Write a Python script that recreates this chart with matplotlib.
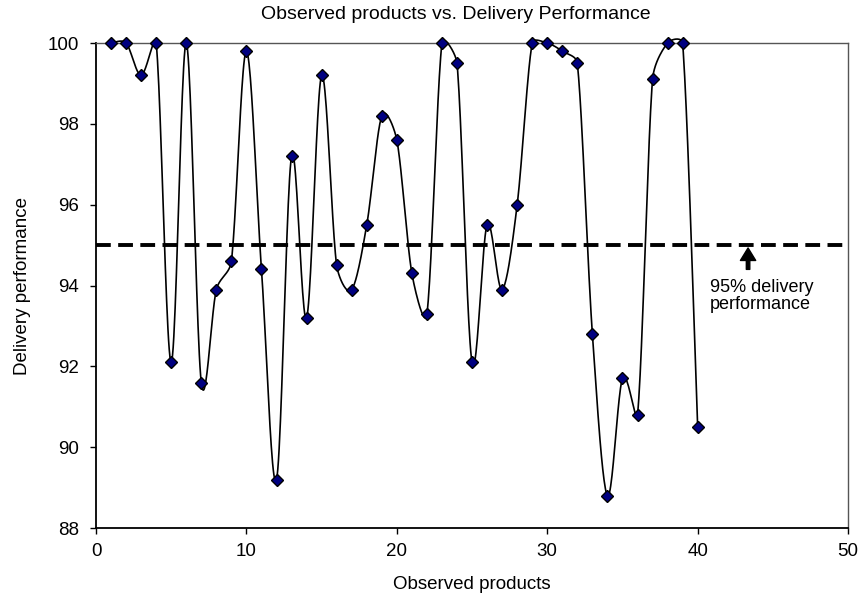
import numpy as np
import matplotlib.pyplot as plt

plt.rcParams['font.family'] = ['Liberation Sans', 'DejaVu Sans']

products = list(range(1, 41))
performance = [100, 100, 99.2, 100, 92.1, 100, 91.6, 93.9, 94.6, 99.8,
               94.4, 89.2, 97.2, 93.2, 99.2, 94.5, 93.9, 95.5, 98.2, 97.6,
               94.3, 93.3, 100, 99.5, 92.1, 95.5, 93.9, 96.0, 100, 100,
               99.8, 99.5, 92.8, 88.8, 91.7, 90.8, 99.1, 100, 100, 90.5]
target = 95


def smooth(x, y, aspect, n=24, k=0.4):
    # bezier spline through the points; handles follow the neighbour slope
    # and are shortened on short segments so the curve does not bulge
    pts = np.column_stack([np.asarray(x, float), np.asarray(y, float) * aspect])
    m = len(pts)
    tang = np.zeros_like(pts)
    for i in range(m):
        a = pts[max(i - 1, 0)]
        b = pts[min(i + 1, m - 1)]
        tang[i] = (b - a) / 6
    t = np.linspace(0, 1, n)[:, None]
    xs, ys = [], []
    for i in range(m - 1):
        p0, p3 = pts[i], pts[i + 1]
        seg = np.hypot(*(p3 - p0))
        h0 = tang[i]
        h1 = tang[i + 1]
        l0 = np.hypot(*h0)
        l1 = np.hypot(*h1)
        if l0 > k * seg:
            h0 = h0 * k * seg / l0
        if l1 > k * seg:
            h1 = h1 * k * seg / l1
        p1 = p0 + h0
        p2 = p3 - h1
        b = (1 - t) ** 3 * p0 + 3 * (1 - t) ** 2 * t * p1 \
            + 3 * (1 - t) * t ** 2 * p2 + t ** 3 * p3
        xs.extend(b[:, 0])
        ys.extend(b[:, 1] / aspect)
    return xs, ys


fig = plt.figure(figsize=(8.61, 5.98), dpi=100)
ax = fig.add_axes([0.1115, 0.117, 0.8735, 0.811])

# one y unit is about 2.69 times as tall on screen as one x unit is wide
sx, sy = smooth(products, performance, aspect=(485 / 12) / (752 / 50))
ax.plot(sx, sy, color='black', lw=1.2, zorder=2, clip_on=False)
ax.plot(products, performance, ls='none', marker='D', ms=5.8,
        mfc='#000080', mec='black', mew=1, zorder=3, clip_on=False)
ax.axhline(target, color='black', ls=(0, (3.8, 1.9)), lw=2.8, zorder=1)

ax.annotate('', xy=(43.35, target - 0.07), xytext=(43.35, 94.4),
            arrowprops=dict(facecolor='black', edgecolor='black',
                            width=2.5, headwidth=11, headlength=9))
ax.text(40.8, 94.17, '95% delivery\nperformance', fontsize=13,
        ha='left', va='top', linespacing=1.0)

ax.set_xlim(0, 50)
ax.set_ylim(88, 100)
ax.set_xticks(range(0, 51, 10))
ax.set_yticks(range(88, 101, 2))
ax.tick_params(axis='both', labelsize=13.5, direction='out', length=4.5, width=1)
ax.tick_params(axis='y', pad=8)
ax.tick_params(axis='x', pad=6)
for s in ['top', 'right']:
    ax.spines[s].set_color('#555555')
    ax.spines[s].set_linewidth(1)
for s in ['left', 'bottom']:
    ax.spines[s].set_linewidth(1.3)

ax.set_title('Observed products vs. Delivery Performance', fontsize=14,
             x=0.479, pad=17)
ax.set_xlabel('Observed products', fontsize=13.5, labelpad=12)
ax.set_ylabel('Delivery performance', fontsize=13.5, labelpad=12)

fig.savefig('out.png', dpi=100)
